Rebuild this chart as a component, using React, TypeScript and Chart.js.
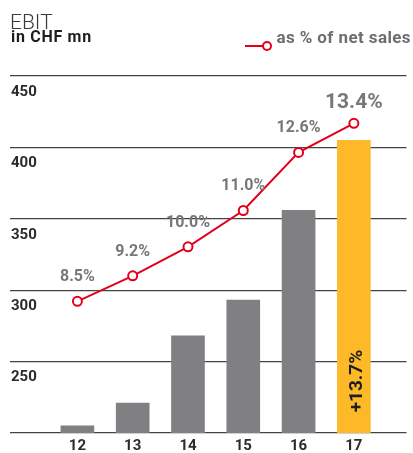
import React, { useEffect, useRef } from 'react';
import { Chart, registerables } from 'chart.js';

Chart.register(...registerables);

// ---- data ----
const categories = ['12', '13', '14', '15', '16', '17'];
const ebit = [205, 221, 268, 293, 356, 405];
const marginPct = [8.5, 9.2, 10.0, 11.0, 12.6, 13.4];
const yTicks = [200, 250, 300, 350, 400, 450];
const growthLabel = '+13.7%';
const seriesLabel = 'as % of net sales';
const titleText = 'EBIT';
const unitText = 'in CHF mn';

// ---- styles ----
const RED = '#e3001b';
const GREY = '#808083';
const YELLOW = '#fdb927';
const FONT = 'Roboto, "Noto Sans", sans-serif';

const overlayPlugin = {
  id: 'overlay',
  afterDraw(chart: any) {
    const ctx = chart.ctx;
    const area = chart.chartArea;
    const yScale = chart.scales.y;
    const xScale = chart.scales.x;
    ctx.save();
    // y labels under gridlines
    ctx.font = `bold 15px ${FONT}`;
    ctx.fillStyle = '#2b2b2b';
    ctx.textAlign = 'left';
    ctx.textBaseline = 'middle';
    yTicks.forEach((v, i) => {
      if (i === 0) return;
      const y = yScale.getPixelForValue(v);
      ctx.fillText(String(v), area.left + 1, y + 16);
    });

    // percent labels
    const lineMeta = chart.getDatasetMeta(0);
    ctx.textAlign = 'center';
    ctx.fillStyle = '#76777a';
    lineMeta.data.forEach((pt: any, i: number) => {
      const last = i === lineMeta.data.length - 1;
      ctx.font = last ? `bold 21px ${FONT}` : `bold 16px ${FONT}`;
      ctx.fillText(marginPct[i].toFixed(1) + '%', pt.x, pt.y - (last ? 21 : 24));
    });
    ctx.restore();

    // growth label on last bar
    const lastIdx = ebit.length - 1;
    const gx = xScale.getPixelForValue(lastIdx) + 3;
    const gy = yScale.getPixelForValue(yTicks[0]) - 52;
    ctx.save();
    ctx.translate(gx, gy);
    ctx.rotate(-Math.PI / 2);
    ctx.font = `bold 19px ${FONT}`;
    ctx.fillStyle = '#1e1e1e';
    ctx.textAlign = 'center';
    ctx.textBaseline = 'middle';
    ctx.fillText(growthLabel, 0, 0);
    ctx.restore();

    // legend marker
    ctx.save();
    ctx.strokeStyle = RED;
    ctx.lineWidth = 2;
    ctx.beginPath();
    ctx.moveTo(245, 46);
    ctx.lineTo(263, 46);
    ctx.stroke();
    ctx.beginPath();
    ctx.arc(267, 46, 4, 0, Math.PI * 2);
    ctx.fillStyle = '#fff';
    ctx.fill();
    ctx.stroke();
    ctx.restore();
  },
};

export default function App() {
  const ref = useRef<HTMLCanvasElement | null>(null);

  useEffect(() => {
    if (!ref.current) return;
    const chart = new Chart(ref.current, {
      type: 'bar',
      data: {
        datasets: [
          {
            type: 'line',
            label: seriesLabel,
            yAxisID: 'y2',
            data: marginPct.map((v, i) => ({ x: i, y: v })),
            borderColor: RED,
            borderWidth: 2,
            pointRadius: 4.5,
            pointBorderWidth: 2,
            pointBackgroundColor: '#ffffff',
            pointBorderColor: RED,
            tension: 0,
            order: 0,
          } as any,
          {
            type: 'bar',
            label: 'EBIT',
            yAxisID: 'y',
            data: ebit.map((v, i) => ({ x: i, y: v })),
            backgroundColor: ebit.map((_, i) => (i === ebit.length - 1 ? YELLOW : GREY)),
            barThickness: 33,
            order: 1,
          } as any,
        ],
      },
      options: {
        animation: false,
        responsive: false,
        layout: { padding: { left: 10, right: 0, top: 76, bottom: 0 } },
        plugins: { legend: { display: false }, tooltip: { enabled: false } },
        scales: {
          x: {
            type: 'linear',
            offset: false,
            min: -1.219,
            max: 5.952,
            grid: { display: false, drawTicks: false },
            border: { display: false },
            afterBuildTicks: (s: any) => {
              s.ticks = categories.map((_, i) => ({ value: i }));
            },
            afterFit: (s: any) => {
              s.height = 20;
            },
            ticks: {
              autoSkip: false,
              maxRotation: 0,
              padding: 4,
              color: '#2b2b2b',
              font: { family: FONT, size: 15, weight: 'bold' },
              callback: (v: any) => categories[Math.round(Number(v))] ?? '',
            },
          } as any,
          y: {
            type: 'linear',
            min: yTicks[0],
            max: yTicks[yTicks.length - 1],
            ticks: { display: false, stepSize: 50 },
            grid: { color: '#444', lineWidth: 1.2, drawTicks: false },
            border: { display: false },
          },
          y2: {
            type: 'linear',
            display: false,
            min: 4.874,
            max: 14.703,
          },
        },
      },
      plugins: [overlayPlugin],
    });
    return () => chart.destroy();
  }, []);

  return (
    <div style={{ position: 'absolute', left: 0, top: 0, width: 413, height: 453, background: '#fff', fontFamily: FONT }}>
      <canvas ref={ref} width={413} height={453} style={{ display: 'block', position: 'absolute', left: 0, top: 0 }} />
      <div style={{ position: 'absolute', left: 10, top: 12, fontSize: 21, lineHeight: '21px', fontWeight: 300, color: '#3a3a3a', whiteSpace: 'nowrap' }}>
        {titleText}
      </div>
      <div style={{ position: 'absolute', left: 11, top: 29, fontSize: 16, lineHeight: '16px', fontWeight: 700, color: '#1e1e1e', letterSpacing: 0.7, whiteSpace: 'nowrap' }}>
        {unitText}
      </div>
      <div style={{ position: 'absolute', right: 2, top: 29, fontSize: 17, lineHeight: '17px', fontWeight: 700, color: '#6d6e71', letterSpacing: 0.4, whiteSpace: 'nowrap' }}>
        {seriesLabel}
      </div>
    </div>
  );
}
